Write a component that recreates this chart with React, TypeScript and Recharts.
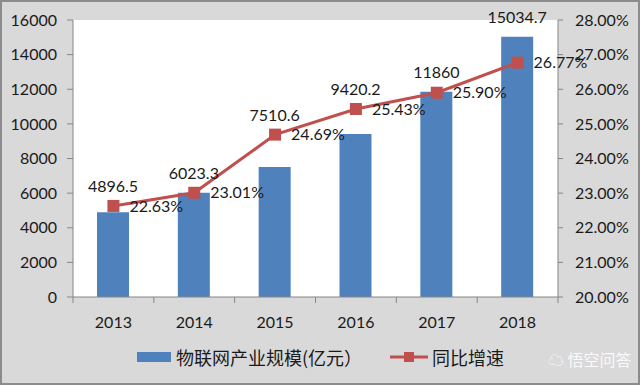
import React from 'react';
import { ComposedChart, Bar, Line, XAxis, YAxis, CartesianGrid, Legend, LabelList } from 'recharts';

const years = ['2013', '2014', '2015', '2016', '2017', '2018'];
const industryScale = [4896.5, 6023.3, 7510.6, 9420.2, 11860, 15034.7];
const growthRate = [22.63, 23.01, 24.69, 25.43, 25.9, 26.77];
const leftTicks = [0, 2000, 4000, 6000, 8000, 10000, 12000, 14000, 16000];
const rightTicks = [20, 21, 22, 23, 24, 25, 26, 27, 28];

const BAR_COLOR = '#4f81bd';
const LINE_COLOR = '#c0504d';
const AXIS_COLOR = '#868686';
const TEXT_COLOR = '#1a1a1a';
const FONT = 'Lato, "Liberation Sans", sans-serif';
const CJK = '"Noto Sans CJK SC", sans-serif';
const FS = 16;

const data = years.map((year, i) => ({
  year,
  scale: industryScale[i],
  growth: growthRate[i],
}));

const LEFT_MAX = leftTicks[leftTicks.length - 1];
const RIGHT_MIN = rightTicks[0];
const RIGHT_MAX = rightTicks[rightTicks.length - 1];

const SquareDot = (props: any) => {
  const { cx, cy } = props;
  if (cx == null || cy == null) return null;
  return <rect x={cx - 6} y={cy - 6} width={12} height={12} fill={LINE_COLOR} />;
};

// bar value sits above whichever is higher: the bar top or the growth marker
const BarValueLabel = (props: any) => {
  const { x, y, width, height, value, index } = props;
  const bottom = y + height;
  const plotH = (height * LEFT_MAX) / value;
  const pointY = bottom - ((growthRate[index] - RIGHT_MIN) / (RIGHT_MAX - RIGHT_MIN)) * plotH;
  const top = Math.min(y, pointY);
  return (
    <text x={x + width / 2} y={top - 20} textAnchor="middle" dominantBaseline="central"
      fontFamily={FONT} fontSize={FS} fill={TEXT_COLOR}>
      {value}
    </text>
  );
};

const YearTick = (props: any) => {
  const { x, y, payload, index, visibleTicksCount } = props;
  const half = payload && payload.offset ? payload.offset : 40.4;
  return (
    <g>
      <line x1={x - half} y1={y} x2={x - half} y2={y + 6} stroke={AXIS_COLOR} />
      {index === visibleTicksCount - 1 && (
        <line x1={x + half} y1={y} x2={x + half} y2={y + 6} stroke={AXIS_COLOR} />
      )}
      <text x={x} y={y + 24} textAnchor="middle" dominantBaseline="central"
        fontFamily={FONT} fontSize={FS} fill={TEXT_COLOR}>
        {payload.value}
      </text>
    </g>
  );
};

const LegendContent = () => (
  <div style={{ display: 'flex', justifyContent: 'center', alignItems: 'center', height: 24, fontFamily: CJK, fontSize: 18, color: TEXT_COLOR }}>
    <svg width={34} height={12} style={{ marginRight: 5 }}>
      <rect x={0} y={1} width={34} height={10} fill={BAR_COLOR} />
    </svg>
    <span>物联网产业规模(亿元）</span>
    <svg width={38} height={12} style={{ marginLeft: 28, marginRight: 4 }}>
      <line x1={0} y1={6} x2={38} y2={6} stroke={LINE_COLOR} strokeWidth={3} />
      <rect x={14} y={1} width={10} height={10} fill={LINE_COLOR} />
    </svg>
    <span>同比增速</span>
  </div>
);

const App: React.FC = () => {
  return (
    <div style={{ position: 'absolute', left: 0, top: 0, width: 640, height: 385, boxSizing: 'border-box', border: '2px solid #8c8c8c', background: '#d9d9d9' }}>
      <ComposedChart width={636} height={381} data={data} margin={{ top: 18, right: 10, left: 11, bottom: 14 }}>
        <CartesianGrid horizontal={false} vertical={false} fill="#ffffff" />
        <XAxis dataKey="year" stroke={AXIS_COLOR} tickLine={false} tickSize={0} tickMargin={0} height={48}
          tick={<YearTick />} interval={0} />
        <YAxis yAxisId="left" domain={[0, LEFT_MAX]} ticks={leftTicks} width={60} stroke={AXIS_COLOR}
          tickSize={6} tickMargin={10} tick={{ fill: TEXT_COLOR, fontSize: FS, fontFamily: FONT }} />
        <YAxis yAxisId="right" orientation="right" domain={[RIGHT_MIN, RIGHT_MAX]} ticks={rightTicks} width={70}
          stroke={AXIS_COLOR} tickSize={5} tickMargin={12}
          tickFormatter={(v: number) => v.toFixed(2) + '%'}
          tick={{ fill: TEXT_COLOR, fontSize: FS, fontFamily: FONT, textAnchor: 'start' }} />
        <Legend verticalAlign="bottom" height={24} content={<LegendContent />} />
        <Bar yAxisId="left" dataKey="scale" fill={BAR_COLOR} barSize={32} isAnimationActive={false}>
          <LabelList dataKey="scale" content={<BarValueLabel />} />
        </Bar>
        <Line yAxisId="right" dataKey="growth" stroke={LINE_COLOR} strokeWidth={3} type="linear"
          dot={<SquareDot />} activeDot={false} isAnimationActive={false}>
          <LabelList dataKey="growth" position="right" offset={16} fontSize={FS} fontFamily={FONT} fill={TEXT_COLOR}
            formatter={(v: any) => Number(v).toFixed(2) + '%'} />
        </Line>
      </ComposedChart>
      <div style={{ position: 'absolute', left: 546, top: 345, whiteSpace: 'nowrap', fontFamily: CJK, fontSize: 16, color: 'rgba(255,255,255,0.9)' }}>
        ☁ 悟空问答
      </div>
    </div>
  );
};

export default App;
